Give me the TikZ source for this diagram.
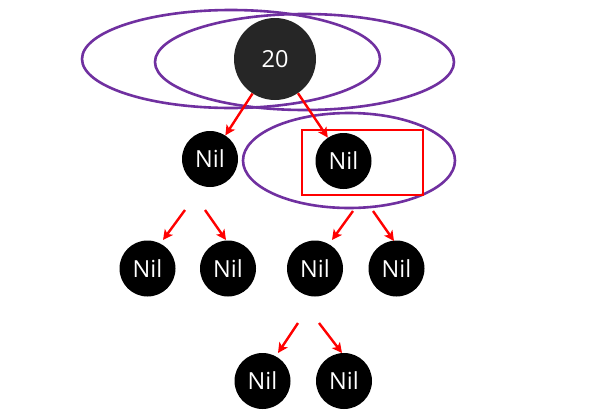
\documentclass[tikz,border=0pt]{standalone}
\usepackage{fontspec}
\setmainfont{Open Sans}
\usetikzlibrary{arrows.meta}
\definecolor{ringpurple}{HTML}{7030A0}
\definecolor{rootgray}{HTML}{262626}
\tikzset{
  nilnode/.style={circle,fill=black,minimum size=56pt,inner sep=0pt,text=white,font=\fontsize{23.5}{24}\selectfont},
  rootnode/.style={circle,fill=rootgray,minimum size=82pt,inner sep=0pt,text=white,font=\fontsize{23.5}{24}\selectfont},
  ring/.style={draw=ringpurple,line width=2.6pt},
  link/.style={draw=red,line width=2.4pt,-{Stealth[length=10pt,width=10pt,inset=2.5pt]}},
  framebox/.style={draw=red,line width=1.8pt}
}
\begin{document}
\begin{tikzpicture}[x=1pt,y=-1pt]
\useasboundingbox (0,0) rectangle (590,418);
\fill[white] (0,0) rectangle (590,418);
% nodes
\node[rootnode] (r) at (275,59) {20};
\node[nilnode] (a) at (210,159) {Nil};
\node[nilnode] (b) at (343.5,161) {Nil};
\node[nilnode] (c) at (147.5,268.5) {Nil};
\node[nilnode] (d) at (228,268.5) {Nil};
\node[nilnode] (e) at (315,268.5) {Nil};
\node[nilnode] (f) at (396.5,268.5) {Nil};
\node[nilnode] (g) at (262.5,381) {Nil};
\node[nilnode] (h) at (344,381) {Nil};
% arrow end points
\coordinate (ac1) at (185,210); \coordinate (ac2) at (163,240);
\coordinate (ad1) at (205,210); \coordinate (ad2) at (226,240);
\coordinate (be1) at (353,211); \coordinate (be2) at (332,240);
\coordinate (bf1) at (373,211); \coordinate (bf2) at (394,241);
\coordinate (eg1) at (298,323); \coordinate (eg2) at (278,353);
\coordinate (eh1) at (319,323); \coordinate (eh2) at (342,353);
% rings
\draw[ring] (231,59) ellipse [x radius=149, y radius=49];
\draw[ring] (304.5,62) ellipse [x radius=149.5, y radius=48];
\draw[ring] (349,160.5) ellipse [x radius=106, y radius=47.5];
% frame
\draw[framebox] (302,130) rectangle (423,195);
% arrows
\draw[link] (r) -- (a);
\draw[link] (r) -- (b);
\draw[link] (ac1) -- (ac2);
\draw[link] (ad1) -- (ad2);
\draw[link] (be1) -- (be2);
\draw[link] (bf1) -- (bf2);
\draw[link] (eg1) -- (eg2);
\draw[link] (eh1) -- (eh2);
\end{tikzpicture}
\end{document}
